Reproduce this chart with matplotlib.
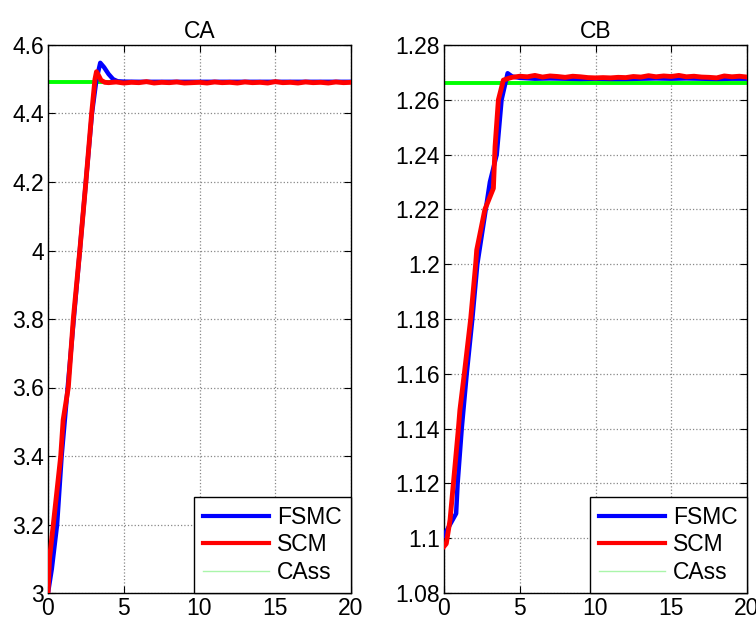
import matplotlib
matplotlib.use("Agg")
import matplotlib.pyplot as plt
from matplotlib.lines import Line2D
from matplotlib.ticker import FormatStrFormatter

plt.rcParams["font.family"] = ["Liberation Sans", "DejaVu Sans"]

# --- CA (left) ---
ca_t_fsmc = [0, 0.25, 0.6, 0.9, 1.3, 1.7, 2.1, 2.5, 2.9, 3.2, 3.45, 3.7, 4.0, 4.3, 4.6,
             5, 6, 7, 8, 9, 10, 11, 12, 13, 14, 15, 16, 17, 18, 19, 20]
ca_fsmc = [3.0, 3.07, 3.2, 3.4, 3.6, 3.8, 4.0, 4.2, 4.4, 4.5, 4.548, 4.535, 4.515, 4.50, 4.494,
           4.493, 4.4925, 4.4925, 4.4925, 4.4925, 4.4925, 4.4925, 4.4925, 4.4925, 4.4925,
           4.4925, 4.4925, 4.4925, 4.4925, 4.4925, 4.4925]

ca_t_scm = [0, 0.1, 0.35, 0.84, 1.0, 1.34, 1.67, 2.1, 2.2, 2.5, 2.88, 3.1, 3.2, 3.35, 3.5, 3.75,
            4.0, 4.5, 5.0, 5.5, 6.0, 6.5, 7.0, 7.5, 8.0, 8.5, 9.0, 9.5, 10.0, 10.5, 11.0, 11.5,
            12.0, 12.5, 13.0, 13.5, 14.0, 14.5, 15.0, 15.5, 16.0, 16.5, 17.0, 17.5, 18.0, 18.5,
            19.0, 19.5, 20.0]
ca_scm = [3.0, 3.1, 3.2, 3.4, 3.505, 3.6, 3.8, 4.0, 4.05, 4.2, 4.4, 4.5, 4.522, 4.51, 4.497, 4.491,
          4.490, 4.492, 4.489, 4.491, 4.490, 4.493, 4.489, 4.491, 4.490, 4.492, 4.489, 4.490,
          4.491, 4.489, 4.492, 4.490, 4.491, 4.489, 4.492, 4.490, 4.491, 4.489, 4.493, 4.490,
          4.491, 4.489, 4.492, 4.490, 4.491, 4.489, 4.492, 4.490, 4.491]

ca_t_ss = [0, 20]
ca_ss = [4.4926, 4.4926]

# --- CB (right) ---
cb_t_fsmc = [0, 0.3, 0.6, 0.8, 0.9, 1.17, 1.5, 1.87, 2.2, 2.7, 3.03, 3.48, 3.8, 4.2, 4.5,
             5, 6, 7, 8, 9, 10, 11, 12, 13, 14, 15, 16, 17, 18, 19, 20]
cb_fsmc = [1.101, 1.104, 1.107, 1.109, 1.12, 1.14, 1.16, 1.18, 1.20, 1.218, 1.23, 1.24, 1.26,
           1.2697, 1.2685, 1.2680, 1.2677, 1.2678, 1.2677, 1.2676, 1.2677, 1.2676, 1.2676,
           1.2677, 1.2678, 1.2677, 1.2678, 1.2677, 1.2676, 1.2677, 1.2677]

cb_t_scm = [0, 0.15, 0.4, 0.62, 0.95, 1.05, 1.34, 1.76, 2.09, 2.16, 2.7, 3.26, 3.37, 3.59, 3.92,
            4.36, 4.5, 5.0, 5.5, 6.0, 6.5, 7.0, 7.5, 8.0, 8.5, 9.0, 9.5, 10.0, 10.5, 11.0, 11.5,
            12.0, 12.5, 13.0, 13.5, 14.0, 14.5, 15.0, 15.5, 16.0, 16.5, 17.0, 17.5, 18.0, 18.5,
            19.0, 19.5, 20.0]
cb_scm = [1.097, 1.098, 1.1067, 1.12, 1.14, 1.1468, 1.16, 1.18, 1.20, 1.2052, 1.22, 1.2277,
          1.2429, 1.26, 1.2672, 1.2680, 1.2682, 1.2686, 1.2684, 1.2689, 1.2683, 1.2687, 1.2685,
          1.2682, 1.2686, 1.2684, 1.2681, 1.2680, 1.2681, 1.2680, 1.2682, 1.2681, 1.2685, 1.2683,
          1.2688, 1.2684, 1.2687, 1.2685, 1.2689, 1.2684, 1.2686, 1.2683, 1.2682, 1.2680, 1.2687,
          1.2684, 1.2686, 1.2683]

cb_t_ss = [0, 20]
cb_ss = [1.2661, 1.2661]

fig = plt.figure(figsize=(7.56, 6.22), dpi=100)
ax1 = fig.add_axes([48 / 756, 29 / 622, 303 / 756, 548 / 622])
ax2 = fig.add_axes([444 / 756, 29 / 622, 303 / 756, 548 / 622])

panels = [
    (ax1, "CA", ca_t_fsmc, ca_fsmc, ca_t_scm, ca_scm, ca_t_ss, ca_ss, (3, 4.6), 0.2, "%g"),
    (ax2, "CB", cb_t_fsmc, cb_fsmc, cb_t_scm, cb_scm, cb_t_ss, cb_ss, (1.08, 1.28), 0.02, "%g"),
]

fs = 16.5
for ax, title, tf, yf, ts, ys, tss, yss, ylim, step, fmt in panels:
    ax.plot(tss, yss, color="#00ff00", lw=2.8, zorder=2)
    ax.plot(tf, yf, color="#0000ff", lw=3.2, zorder=3)
    ax.plot(ts, ys, color="#ff0000", lw=3.5, zorder=4)
    ax.set_xlim(0, 20)
    ax.set_ylim(*ylim)
    ax.set_xticks([0, 5, 10, 15, 20])
    n = int(round((ylim[1] - ylim[0]) / step))
    ax.set_yticks([round(ylim[0] + i * step, 4) for i in range(n + 1)])
    ax.yaxis.set_major_formatter(FormatStrFormatter(fmt))
    ax.grid(True, color="#888888", linestyle=":", lw=0.9)
    ax.tick_params(direction="in", top=True, right=True, length=5, width=0.8,
                   labelsize=fs, pad=3)
    for s in ax.spines.values():
        s.set_linewidth(1.0)
        s.set_color("black")
    ax.set_title(title, fontsize=fs, pad=5)

    handles = [
        Line2D([], [], color="#0000ff", lw=3),
        Line2D([], [], color="#ff0000", lw=3),
        Line2D([], [], color="#aaf5aa", lw=1),
    ]
    leg = ax.legend(handles, ["FSMC", "SCM", "CAss"], loc="lower right",
                    fontsize=fs, frameon=True, fancybox=False, borderaxespad=0,
                    handlelength=2.9, handletextpad=0.35, labelspacing=0.2,
                    borderpad=0.4)
    leg.get_frame().set_edgecolor("black")
    leg.get_frame().set_linewidth(1.0)
    leg.get_frame().set_alpha(1)

fig.savefig("out.png", dpi=100)
